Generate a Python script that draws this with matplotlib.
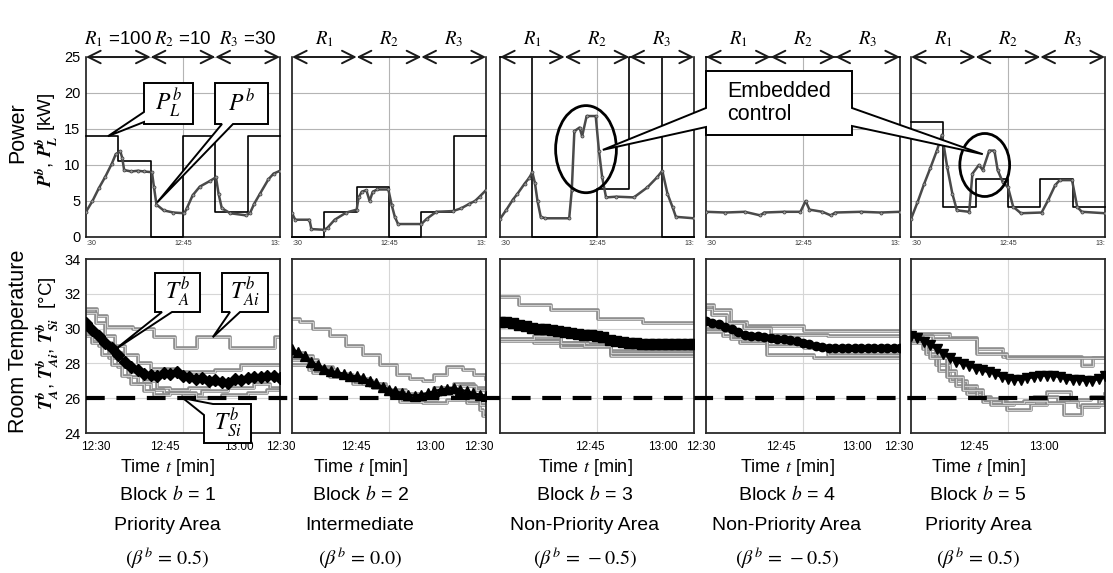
import matplotlib
matplotlib.use("Agg")
import matplotlib.pyplot as plt
from matplotlib.patches import Ellipse, Polygon
from matplotlib.lines import Line2D

plt.rcParams['font.family'] = ['Liberation Sans', 'DejaVu Sans']
plt.rcParams['mathtext.fontset'] = 'stix'

W, H = 1113, 573

# ---------------- data ----------------
AREA = ["Priority Area", "Intermediate", "Non-Priority Area", "Non-Priority Area", "Priority Area"]
BETA = ["0.5", "0.0", "-0.5", "-0.5", "0.5"]
R_WEIGHTS = [100, 10, 30]
SETPOINT = 26
TIME_LABELS = ["12:30", "12:45", "13:00"]

# power limit P_L^b, 5-min steps
LIMIT_T = [0, 5, 10, 15, 20, 25, 30]
LIMIT1 = [14, 10.5, 0, 14, 3.5, 14, 14]
LIMIT2 = [0, 3.5, 6.9, 0, 3.5, 14, 14]
LIMIT3 = [25, 0, 0, 6.7, 25, 0, 0]
LIMIT4 = [25, 25, 25, 25, 25, 25, 25]
LIMIT5 = [16, 4.2, 8, 4.2, 8, 4.2, 4.2]

# measured power P^b
P1_T = [0, 1, 2, 3, 4, 4.6, 5.3, 5.6, 5.9, 7, 8, 9, 10.2, 10.5, 10.9, 12, 13.5, 15.2, 15.6, 16.5,
        17.6, 19.2, 20.1, 20.5, 21, 22.3, 24.8, 25.4, 26.0, 26.9, 28.2, 29.0, 30]
P1 = [3.5, 5.0, 6.8, 8.4, 10.2, 11.5, 11.9, 11.0, 9.3, 9.1, 9.2, 9.1, 9.0, 7.0, 4.5, 3.7, 3.4, 3.3, 4.0, 5.8,
      7.0, 7.8, 8.3, 6.0, 4.0, 3.3, 3.0, 3.4, 4.6, 6.0, 8.0, 8.8, 9.2]
P2_T = [0, 0.5, 2.7, 3.0, 5.0, 5.5, 6.6, 8.4, 10, 10.3, 10.8, 11.5, 12, 12.5, 13.2, 14.9, 15.4, 15.9,
        16.4, 20, 20.8, 22.3, 24.9, 26.2, 27.4, 28.3, 29, 30]
P2 = [3.3, 2.4, 2.4, 1.1, 1.0, 1.3, 2.4, 3.4, 3.8, 5.5, 6.3, 6.5, 5.0, 6.3, 6.6, 6.6, 4.5, 2.8,
      1.8, 1.8, 2.5, 3.5, 3.6, 4.0, 4.6, 5.0, 5.6, 6.5]
P3_T = [0, 1, 2, 2.7, 3.8, 4.5, 5.0, 5.4, 5.8, 6.3, 7, 10.7, 11.1, 11.5, 12.3, 12.7, 13.4, 14.8, 15.3,
        15.8, 16.4, 18, 20.7, 22.8, 24.3, 25.1, 25.9, 26.7, 27.2, 30]
P3 = [2.5, 3.8, 5.2, 6.0, 7.4, 8.2, 9.0, 7.5, 5.0, 2.8, 2.6, 2.6, 6.5, 14.7, 15.2, 14.0, 16.8, 16.8, 12.0,
      8.3, 5.5, 5.6, 5.5, 6.9, 8.3, 9.2, 6.0, 4.1, 2.8, 2.6]
P4_T = [0, 3, 6, 8.4, 9, 12, 14.6, 15.4, 16, 18, 19.3, 20, 24, 27, 30]
P4 = [3.5, 3.4, 3.5, 3.0, 3.4, 3.5, 3.5, 5.0, 3.8, 3.5, 3.0, 3.4, 3.5, 3.4, 3.5]
P5_T = [0, 1, 2, 3, 4, 4.8, 5.6, 6.4, 7.1, 9, 9.5, 10.5, 11.1, 12.1, 12.9, 13.4, 14.2, 15, 15.8, 17,
        20.2, 21.2, 22.3, 23, 24.9, 25.7, 26.4, 30]
P5 = [2.5, 4.8, 7.3, 9.6, 12.0, 14.2, 9.7, 6.0, 3.7, 3.5, 8.8, 10.0, 9.3, 12.0, 12.0, 9.3, 7.6, 6.9, 4.2, 3.3,
      3.4, 5.1, 7.2, 7.9, 7.9, 4.2, 3.5, 3.3]

# average room temperature T_A^b, one value per minute
TA_T = list(range(31))
TA1 = [30.3, 29.9, 29.6, 29.2, 28.9, 28.5, 28.1, 27.8, 27.6, 27.4, 27.35, 27.3, 27.45, 27.4, 27.5, 27.3,
       27.2, 27.1, 27.15, 27.0, 27.05, 26.95, 26.9, 27.1, 27.05, 27.15, 27.2, 27.2, 27.3, 27.25, 27.15]
TA2 = [28.8, 28.65, 28.4, 28.1, 27.9, 27.7, 27.55, 27.5, 27.4, 27.3, 27.25, 27.15, 27.0, 26.85, 26.65, 26.5,
       26.4, 26.3, 26.2, 26.15, 26.2, 26.3, 26.4, 26.5, 26.55, 26.6, 26.5, 26.4, 26.3, 26.2, 26.15]
TA3 = [30.4, 30.4, 30.35, 30.2, 30.15, 30.05, 30.0, 29.95, 29.9, 29.85, 29.8, 29.75, 29.7, 29.65, 29.65, 29.6,
       29.5, 29.35, 29.3, 29.25, 29.2, 29.2, 29.1, 29.1, 29.1, 29.1, 29.1, 29.1, 29.1, 29.1, 29.1]
TA4 = [30.45, 30.35, 30.25, 30.1, 29.95, 29.8, 29.65, 29.6, 29.55, 29.5, 29.45, 29.4, 29.4, 29.35, 29.3, 29.2,
       29.1, 29.0, 28.95, 28.9, 28.9, 28.9, 28.9, 28.9, 28.9, 28.9, 28.9, 28.9, 28.9, 28.9, 28.9]
TA5 = [29.6, 29.45, 29.25, 29.05, 28.8, 28.55, 28.3, 28.1, 27.95, 27.85, 27.7, 27.6, 27.5, 27.4, 27.2, 27.1,
       27.05, 27.05, 27.15, 27.2, 27.3, 27.3, 27.3, 27.2, 27.1, 27.05, 27.05, 27.0, 27.0, 27.1, 27.25]

# individual sensors T_Ai^b / T_Si^b (step changes: times, values)
SENS1 = [
    ([0, 1.7, 3.2, 7.3, 10.5, 13.8, 17.2, 22.3, 29.3, 30], [31.1, 30.7, 30.1, 30.0, 29.5, 28.9, 29.5, 28.9, 29.5, 29.5]),
    ([0, 1.5, 3, 4.5, 6, 8, 10, 14, 20, 24, 27, 30], [30.9, 30.3, 29.6, 29.0, 28.5, 28.0, 27.7, 27.5, 27.6, 27.9, 27.9, 27.9]),
    ([0, 1, 2.5, 4, 5.5, 7, 9, 11, 13, 16, 19, 23, 27, 30], [30.0, 29.6, 29.2, 28.6, 28.0, 27.5, 27.0, 26.6, 26.5, 26.6, 26.8, 27.0, 27.3, 27.3]),
    ([0, 1, 2, 3.5, 5, 6.5, 8, 10, 12, 15, 18, 22, 26, 28.5, 30], [29.8, 29.4, 29.0, 28.3, 27.8, 27.2, 26.8, 26.5, 26.3, 26.2, 26.4, 26.6, 26.8, 26.6, 26.6]),
    ([0, 1, 2.5, 4, 5.5, 7, 9, 10.5, 13, 17, 21, 25, 28, 30], [29.6, 29.2, 28.5, 27.9, 27.3, 26.8, 26.4, 26.2, 26.3, 26.0, 26.2, 26.3, 26.5, 26.5]),
]
SENS2 = [
    ([0, 1.2, 3.3, 5.8, 8.4, 11, 13.6, 16.2, 18.3, 20.3, 21.9, 24, 26.5, 28.1, 30], [30.55, 30.4, 30.0, 29.6, 29.0, 28.5, 27.9, 27.35, 27.1, 27.0, 27.35, 27.8, 27.6, 27.35, 27.1]),
    ([0, 3.3, 6.4, 9.5, 12.6, 14.6, 16.7, 20.3, 23.9, 27.1, 29.1, 29.6, 30], [28.4, 27.8, 27.35, 27.0, 26.6, 26.25, 25.8, 25.7, 25.9, 25.7, 25.3, 24.95, 24.95]),
    ([0, 2.7, 5.8, 9.5, 13.6, 15.7, 18.8, 22.4, 25, 27.1, 29, 30], [28.2, 27.6, 27.2, 26.8, 26.4, 26.05, 25.9, 26.25, 26.15, 25.9, 25.6, 25.6]),
    ([0, 3.3, 6.9, 11, 14.6, 17.7, 21.9, 25, 28.1, 30], [27.9, 27.45, 27.2, 26.8, 26.5, 26.25, 26.6, 26.8, 26.6, 26.4]),
    ([0, 2, 4, 6.5, 9, 12, 14.5, 17, 20, 23, 26, 28.5, 30], [28.6, 28.2, 27.7, 27.4, 27.1, 26.7, 26.35, 26.1, 26.2, 26.45, 26.7, 26.5, 26.5]),
]
SENS3 = [
    ([0, 3, 7.9, 15.2, 22.1, 30], [31.8, 31.35, 31.05, 30.55, 30.3, 30.3]),
    ([0, 9.5, 17.2, 30], [29.35, 29.0, 28.55, 28.55]),
    ([0, 5.3, 13.6, 17.2, 30], [29.4, 29.2, 29.1, 28.7, 28.7]),
    ([0, 9.5, 17.2, 30], [29.3, 28.95, 28.45, 28.45]),
    ([0, 5.3, 9.5, 13, 17.2, 30], [29.4, 29.6, 29.2, 29.0, 28.6, 28.6]),
]
SENS4 = [
    ([0, 1.2, 3.8, 6.4, 15.2, 30], [31.35, 31.05, 30.4, 30.15, 29.85, 29.85]),
    ([0, 0.9, 3.3, 5.8, 10, 18.8, 30], [31.15, 30.8, 30.3, 30.05, 29.65, 29.6, 29.6]),
    ([0, 2.7, 5.3, 9.5, 15.2, 30], [29.8, 29.55, 29.2, 29.0, 28.9, 28.9]),
    ([0, 3.8, 9.5, 16.7, 30], [29.95, 29.4, 28.5, 28.3, 28.3]),
    ([0, 4.5, 10, 15, 18.8, 30], [29.85, 29.6, 29.3, 29.0, 28.5, 28.45]),
]
SENS5 = [
    ([0, 6, 10.2, 14.3, 26.4, 28.2, 30], [29.7, 29.45, 28.85, 28.35, 27.85, 28.3, 28.3]),
    ([0, 3.4, 10.2, 14.9, 30], [29.6, 29.4, 28.55, 28.3, 28.3]),
    ([0, 1.8, 3.9, 6, 8.6, 11.2, 14.9, 18.5, 21.1, 24.8, 27.9, 30], [29.5, 28.85, 27.9, 27.0, 26.25, 25.8, 25.3, 25.6, 26.35, 25.9, 26.05, 26.25]),
    ([0, 2.3, 4.4, 7, 10.2, 12.3, 15.9, 19, 22.7, 25.8, 29, 30], [29.4, 28.55, 27.55, 26.7, 26.05, 25.6, 25.7, 26.05, 25.8, 25.5, 25.9, 25.9]),
    ([0, 2.9, 5.5, 8.1, 11.2, 14.3, 17.5, 21.1, 23.7, 26.4, 30], [29.2, 28.3, 27.2, 26.5, 25.95, 25.7, 25.85, 25.7, 25.05, 25.6, 25.9]),
]

LIMITS = [LIMIT1, LIMIT2, LIMIT3, LIMIT4, LIMIT5]
POW_T = [P1_T, P2_T, P3_T, P4_T, P5_T]
POW = [P1, P2, P3, P4, P5]
TAS = [TA1, TA2, TA3, TA4, TA5]
SENS = [SENS1, SENS2, SENS3, SENS4, SENS5]

# ---------------- layout (pixels) ----------------
LEFTS = [86, 292, 500, 706, 911]
PW = 194
TOP_Y0, TOP_Y1 = 57, 237
BOT_Y0, BOT_Y1 = 259, 433
TICK_PX = [[10, 79, 153], [-11, 64, 138], [-21, 90, 163], [-5, 75, 151], [-12, 63, 133]]
TEXT_CX = [167, 360, 585, 787, 978]
MARKERS = [('D', 6), ('^', 7), ('s', 7.5), ('o', 6), ('v', 6.5)]


def fx(px):
    return px / W


def fy(py):
    return 1 - py / H


fig = plt.figure(figsize=(W / 100, H / 100), dpi=100)
fig.patch.set_facecolor('white')

axes_top, axes_bot = [], []
for i in range(5):
    L = LEFTS[i]
    at = fig.add_axes([fx(L), fy(TOP_Y1), PW / W, (TOP_Y1 - TOP_Y0) / H])
    ab = fig.add_axes([fx(L), fy(BOT_Y1), PW / W, (BOT_Y1 - BOT_Y0) / H])
    axes_top.append(at)
    axes_bot.append(ab)

    # ---- power panel ----
    at.set_xlim(0, 30)
    at.set_ylim(0, 25)
    at.set_yticks([5, 10, 15, 20])
    at.set_xticks([15])
    at.grid(True, color='#b4b4b4', lw=0.8)
    at.tick_params(length=0, labelbottom=False, labelleft=(i == 0), labelsize=10.5, pad=4)
    if i == 0:
        at.set_yticks([0, 5, 10, 15, 20, 25])
    at.spines['top'].set_visible(False)
    for s in ['left', 'right', 'bottom']:
        at.spines[s].set_color('#1a1a1a')
        at.spines[s].set_linewidth(1.2)
    at.step(LIMIT_T, LIMITS[i], where='post', color='black', lw=1.2, zorder=3, clip_on=False)
    at.plot(POW_T[i], POW[i], color='#4a4a4a', lw=1.8, marker='o', ms=2.2,
            mfc='#9a9a9a', mec='#3a3a3a', mew=0.5, zorder=4)
    # R1 / R2 / R3 double arrows
    for k in range(3):
        at.annotate('', xy=(10 * (k + 1), 25), xytext=(10 * k, 25),
                    arrowprops=dict(arrowstyle='<->,head_length=0.9,head_width=0.45',
                                    lw=1.4, color='#1a1a1a', shrinkA=0, shrinkB=0),
                    annotation_clip=False, zorder=5)
        if i == 0:
            lab = r"$R_\mathit{%d}$ =%d" % (k + 1, R_WEIGHTS[k])
        else:
            lab = r"$R_\mathit{%d}$" % (k + 1)
        at.text(10 * k + 5, 27.5, lab, ha='center', va='center', fontsize=13.5)
    # tiny clipped time labels
    at.text(0, -0.018, ":30", transform=at.transAxes, ha='left', va='top', fontsize=5, color='#333333')
    at.text(0.5, -0.018, "12:45", transform=at.transAxes, ha='center', va='top', fontsize=5, color='#333333')
    at.text(1, -0.018, "13:", transform=at.transAxes, ha='right', va='top', fontsize=5, color='#333333')

    # ---- temperature panel ----
    ab.set_xlim(0, 30)
    ab.set_ylim(24, 34)
    ab.set_xticks([15])
    ab.set_yticks([26, 28, 30, 32])
    ab.grid(True, color='#d6d6d6', lw=0.8)
    ab.tick_params(length=0, labelbottom=False, labelleft=(i == 0), labelsize=10.5, pad=4)
    if i == 0:
        ab.set_yticks([24, 26, 28, 30, 32, 34])
    for s in ab.spines.values():
        s.set_color('#2a2a2a')
        s.set_linewidth(1.3)
    for ts, vs in SENS[i]:
        ab.step(ts, vs, where='post', color='#8c8c8c', lw=2.6, zorder=2)
        ab.step(ts, vs, where='post', color='#cfcfcf', lw=0.8, zorder=2)
    mk, ms = MARKERS[i]
    ab.plot(TA_T, TAS[i], color='black', lw=1.6, marker=mk, ms=ms, zorder=3)

    # bottom texts
    for k in range(3):
        fig.text(fx(L + TICK_PX[i][k]), fy(447), TIME_LABELS[k], ha='center', va='center', fontsize=8.5)
    cx = TEXT_CX[i]
    fig.text(fx(cx), fy(467), r"Time $t$ [min]", ha='center', va='center', fontsize=13)
    fig.text(fx(cx), fy(494), r"Block $b$ = %d" % (i + 1), ha='center', va='center', fontsize=14)
    fig.text(fx(cx), fy(526), AREA[i], ha='center', va='center', fontsize=14)
    fig.text(fx(cx), fy(558), r"$(\beta^b\, =\, %s)$" % BETA[i], ha='center', va='center', fontsize=14.5)

# y labels
fig.text(fx(18), fy(133), "Power", rotation=90, ha='center', va='center', fontsize=15.5)
fig.text(fx(46), fy(140), r"$\mathbfit{P}^{\mathbfit{b}}$, $\mathbfit{P}_{\mathbfit{L}}^{\mathbfit{b}}$ [kW]",
         rotation=90, ha='center', va='center', fontsize=13.5)
fig.text(fx(19), fy(341), "Room Temperature", rotation=90, ha='center', va='center', fontsize=15.5)
fig.text(fx(47), fy(343),
         r"$\mathbfit{T}_{\mathbfit{A}}^{\mathbfit{b}}$, $\mathbfit{T}_{\mathbfit{Ai}}^{\mathbfit{b}}$, "
         r"$\mathbfit{T}_{\mathbfit{Si}}^{\mathbfit{b}}$  [°C]",
         rotation=90, ha='center', va='center', fontsize=13.5)

# dashed set-point line across all temperature panels
y26 = axes_bot[0].transData.transform((0, SETPOINT))[1] / H
fig.add_artist(Line2D([fx(LEFTS[0]), fx(LEFTS[-1] + PW)], [y26, y26], transform=fig.transFigure,
                      color='black', lw=3, dashes=(4.5, 2.8), zorder=4))

# ellipses marking embedded control
axes_top[2].add_patch(Ellipse((13.3, 12.2), 9.4, 12.1, fill=False, ec='black', lw=2, zorder=6, clip_on=False))
axes_top[4].add_patch(Ellipse((11.4, 10.0), 7.7, 8.75, fill=False, ec='black', lw=2, zorder=6, clip_on=False))


def px_of(ax, x, y):
    dx, dy = ax.transData.transform((x, y))
    return dx, H - dy


def callout(verts, text, tx, ty, size=17, ha='center'):
    poly = Polygon([(fx(a), fy(b)) for a, b in verts], closed=True, transform=fig.transFigure,
                   fc='white', ec='black', lw=1.4, zorder=8)
    fig.add_artist(poly)
    t = fig.text(fx(tx), fy(ty), text, ha=ha, va='center', fontsize=size, zorder=9, linespacing=1.15)
    return t


tip = px_of(axes_top[0], 3.4, 14.0)
callout([(144, 83), (193, 83), (193, 124), (144, 124), (144, 122), tip, (144, 112)], r"$P_L^b$", 168.5, 103)
tip = px_of(axes_top[0], 11.0, 4.8)
callout([(215, 83), (268, 83), (268, 124), (233, 124), tip, (222, 124), (215, 124)], r"$P^b$", 241.5, 103)
tip = px_of(axes_bot[0], 4.5, 28.8)
callout([(155, 273), (200, 273), (200, 312), (172, 312), tip, (162, 312), (155, 312)], r"$T_A^b$", 177.5, 292)
tip = px_of(axes_bot[0], 19.6, 29.5)
callout([(222, 273), (268, 273), (268, 312), (240, 312), tip, (230, 312), (222, 312)], r"$T_{Ai}^b$", 245, 292)
tip = px_of(axes_bot[0], 15.0, 26.0)
callout([(213, 404), (251, 404), (251, 443), (204, 443), (204, 415), tip], r"$T_{Si}^b$", 227.5, 423)

tip3 = px_of(axes_top[2], 15.9, 12.1)
tip5 = px_of(axes_top[4], 11.1, 11.5)
callout([(706, 71), (852, 71), (852, 108), tip5, (852, 126), (852, 135), (706, 135), (706, 127), tip3, (706, 108)],
        "Embedded\ncontrol", 727, 103, size=15.5, ha='left')

fig.savefig("out.png", dpi=100)
